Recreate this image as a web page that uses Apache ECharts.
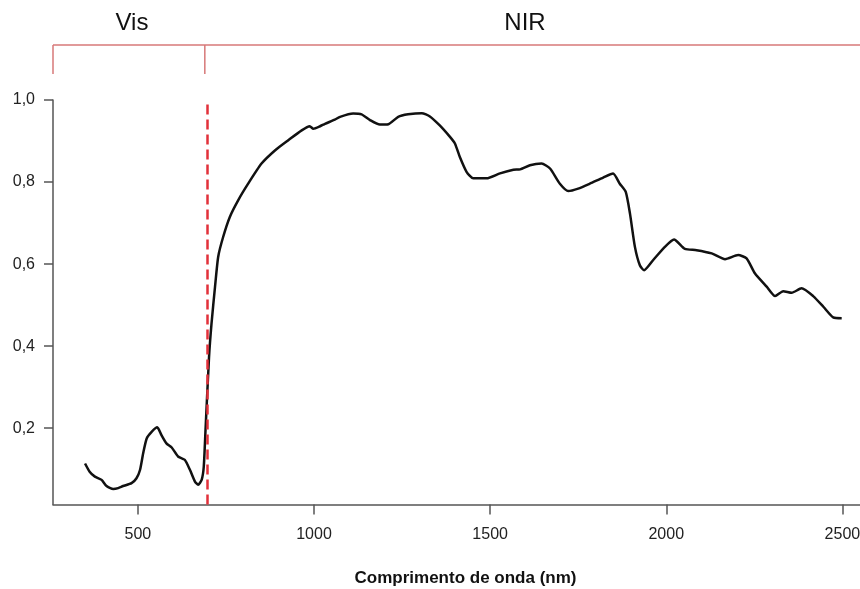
<!DOCTYPE html>
<html>
<head>
<meta charset="utf-8">
<script src="https://cdn.jsdelivr.net/npm/echarts@6/dist/echarts.min.js"></script>
<style>
  html, body { margin: 0; padding: 0; background: #fff; }
  #chart { width: 860px; height: 589px; }
</style>
</head>
<body>
<div id="chart"></div>
<script>
// comprimento de onda (nm) e reflectância
const wavelength = [350, 363, 378, 397, 411, 430, 444, 458, 482, 496, 506, 515, 525, 539, 555, 567, 581, 596, 614, 633, 648, 662, 671, 681, 687, 692,
  702, 709, 719, 728, 742, 761, 785, 813, 851, 889, 927, 965, 988, 998, 1017, 1031, 1059, 1074, 1111, 1135, 1159, 1187, 1211, 1239, 1267, 1306,
  1329, 1357, 1386, 1400, 1414, 1433, 1452, 1490, 1528, 1566, 1585, 1613, 1646, 1670, 1698, 1722, 1750, 1783, 1821, 1849, 1868, 1885, 1897,
  1911, 1925, 1937, 1963, 1996, 2022, 2053, 2086, 2129, 2167, 2204, 2228, 2252, 2285, 2309, 2332, 2356, 2384, 2417, 2446, 2474, 2498];
const reflectance = [0.114, 0.094, 0.082, 0.074, 0.059, 0.052, 0.054, 0.059, 0.066, 0.078, 0.098, 0.139, 0.175, 0.191, 0.202, 0.183, 0.163, 0.153, 0.131, 0.123, 0.098, 0.070, 0.062, 0.074, 0.106, 0.196,
  0.374, 0.455, 0.545, 0.618, 0.666, 0.715, 0.756, 0.796, 0.845, 0.877, 0.902, 0.926, 0.936, 0.930, 0.936, 0.942, 0.952, 0.959, 0.967, 0.965, 0.951, 0.940, 0.941, 0.959, 0.965, 0.968,
  0.960, 0.938, 0.910, 0.894, 0.861, 0.825, 0.809, 0.809, 0.821, 0.830, 0.831, 0.841, 0.845, 0.833, 0.796, 0.778, 0.784, 0.796, 0.811, 0.821, 0.796, 0.776, 0.723,
  0.642, 0.597, 0.585, 0.610, 0.642, 0.660, 0.637, 0.634, 0.626, 0.612, 0.622, 0.614, 0.577, 0.545, 0.522, 0.534, 0.530, 0.541, 0.522, 0.496, 0.470, 0.468];

const xTicks = [500, 1000, 1500, 2000, 2500];
const yTicks = [0.2, 0.4, 0.6, 0.8, 1.0];
const visLimit = 697; // linha tracejada
const bandEdge = 690;  // limite Vis / NIR da chave

const myChart = echarts.init(document.getElementById("chart"));
const font = "Liberation Sans, Arial, sans-serif";
const axisColor = "#555";

let option = {
  animation: false,
  grid: { left: 53, right: 0, top: 100, bottom: 84.5, outerBoundsMode: "none" },
  xAxis: {
    type: "value",
    min: 259,
    max: 2550,
    name: "Comprimento de onda (nm)",
    nameLocation: "middle",
    nameGap: 65,
    nameTextStyle: { fontFamily: font, fontSize: 17, fontWeight: "bold", color: "#111", padding: [0, 0, 0, 18] },
    splitLine: { show: false },
    axisLine: { lineStyle: { color: axisColor, width: 1.5 } },
    axisTick: { customValues: xTicks, length: 10, lineStyle: { color: axisColor, width: 1.5 } },
    axisLabel: {
      customValues: xTicks,
      margin: 22,
      fontFamily: font,
      fontSize: 16,
      color: "#222",
      formatter: (v) => String(v),
    },
  },
  yAxis: {
    type: "value",
    min: 0.014,
    max: 1.0,
    splitLine: { show: false },
    axisLine: { show: true, lineStyle: { color: axisColor, width: 1.5 } },
    axisTick: { show: true, customValues: yTicks, length: 9, lineStyle: { color: axisColor, width: 1.5 } },
    axisLabel: {
      customValues: yTicks,
      margin: 18,
      fontFamily: font,
      fontSize: 16,
      color: "#222",
      formatter: (v) => v.toFixed(1).replace(".", ","),
    },
  },
  series: [
    {
      type: "line",
      data: wavelength.map((w, i) => [w, reflectance[i]]),
      symbol: "none",
      smooth: 0.2,
      lineStyle: { color: "#111", width: 2.5 },
      markLine: {
        silent: true,
        symbol: "none",
        label: { show: false },
        lineStyle: { color: "#e2303a", width: 2.5, type: [10, 5] },
        data: [{ xAxis: visLimit }],
      },
    },
  ],
};

option && myChart.setOption(option);

// chave Vis / NIR no topo
const x0 = myChart.convertToPixel({ xAxisIndex: 0 }, 259);
const x1 = myChart.convertToPixel({ xAxisIndex: 0 }, bandEdge);
const bracket = { stroke: "#d77878", lineWidth: 1.5 };
myChart.setOption({
  graphic: [
    { type: "line", shape: { x1: x0, y1: 45, x2: 860, y2: 45 }, style: bracket },
    { type: "line", shape: { x1: x0, y1: 45, x2: x0, y2: 74 }, style: bracket },
    { type: "line", shape: { x1: x1, y1: 45, x2: x1, y2: 74 }, style: bracket },
    { type: "text", x: 132, y: 23, style: { text: "Vis", font: "24px " + font, fill: "#111", align: "center", verticalAlign: "middle" } },
    { type: "text", x: 525, y: 23, style: { text: "NIR", font: "24px " + font, fill: "#111", align: "center", verticalAlign: "middle" } },
  ],
});
</script>
</body>
</html>
